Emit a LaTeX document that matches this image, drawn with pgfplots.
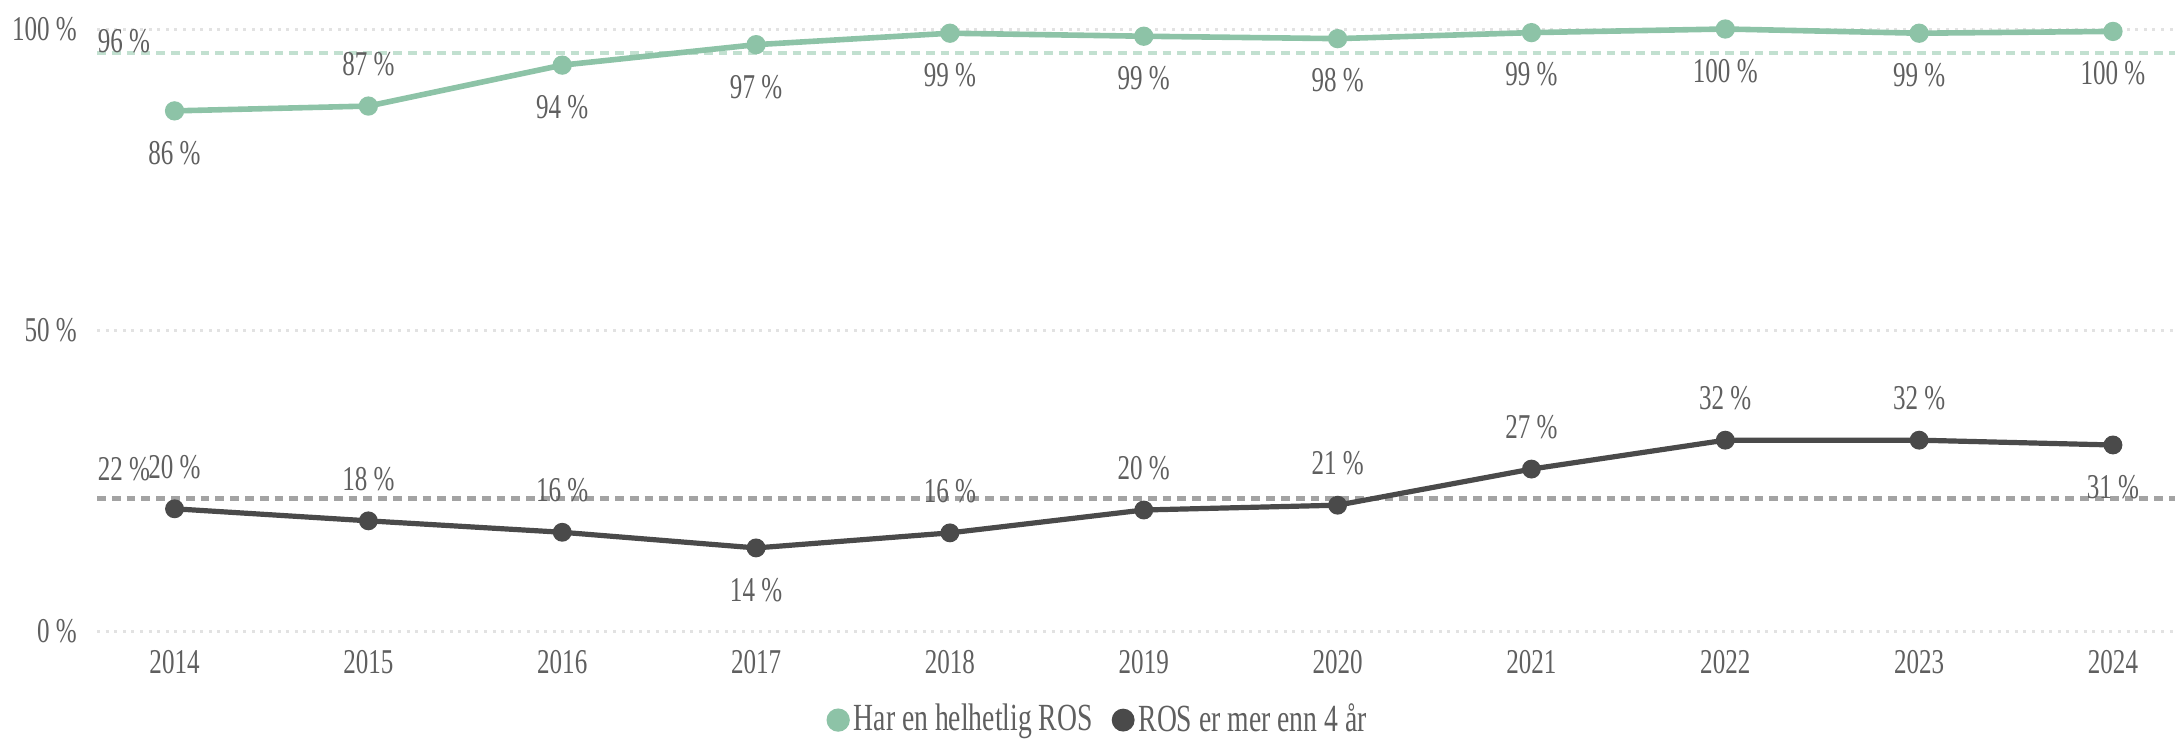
\documentclass[border=0pt]{standalone}
\usepackage{fontspec}
\setmainfont{Liberation Serif}[FakeStretch=0.72]
\usepackage{pgfplots}
\pgfplotsset{compat=1.18}
\usepackage{pgfplotstable}
\definecolor{ros}{HTML}{8DC3A7}
\definecolor{dark}{HTML}{4A4A4A}
\definecolor{avgG}{HTML}{C2E0D0}
\definecolor{avgD}{HTML}{A3A3A3}
\definecolor{txt}{HTML}{5F5F5F}
\definecolor{gridc}{HTML}{E2E2E2}

% Har en helhetlig ROS
\pgfplotstableread{
x y lab
2014 86.4 86
2015 87.2 87
2016 94.0 94
2017 97.4 97
2018 99.3 99
2019 98.8 99
2020 98.4 98
2021 99.4 99
2022 100 100
2023 99.3 99
2024 99.6 100
}\tblA

% ROS er mer enn 4 aar
\pgfplotstableread{
x y lab
2014 20.3 20
2015 18.3 18
2016 16.4 16
2017 13.8 14
2018 16.3 16
2019 20.1 20
2020 20.9 21
2021 26.9 27
2022 31.7 32
2023 31.7 32
2024 30.9 31
}\tblB

\pgfplotsset{
 lblabove/.style={forget plot, draw=none, mark=none, point meta=explicit,
  nodes near coords={\pgfmathprintnumber[assume math mode=true]{\pgfplotspointmeta} \%},
  every node near coord/.append style={anchor=center, yshift=10.5pt, font=\fontsize{8.7}{10}\selectfont, text=txt}},
 lblbelow/.style={forget plot, draw=none, mark=none, point meta=explicit,
  nodes near coords={\pgfmathprintnumber[assume math mode=true]{\pgfplotspointmeta} \%},
  every node near coord/.append style={anchor=center, yshift=-10.5pt, font=\fontsize{8.7}{10}\selectfont, text=txt}},
}

\begin{document}
\begin{tikzpicture}[font=\fontsize{8.7}{10}\selectfont]
\path[use as bounding box] (-24.25pt,-27.5pt) rectangle (519.5pt,157.75pt);
\begin{axis}[
  scale only axis, width=519.5pt, height=150.5pt,
  xmin=2013.6, xmax=2024.32, ymin=0, ymax=100,
  clip=false,
  axis line style={draw=none},
  major tick length=0pt,
  /pgf/number format/assume math mode=true,
  ytick={0,50,100}, yticklabels={0 \%,50 \%,100 \%},
  xtick={2014,2015,2016,2017,2018,2019,2020,2021,2022,2023,2024},
  xticklabels={2014,2015,2016,2017,2018,2019,2020,2021,2022,2023,2024},
  ymajorgrids,
  grid style={gridc, line width=0.75pt, dash pattern=on 0.75pt off 1.4pt},
  tick label style={font=\fontsize{8.7}{10}\selectfont, text=txt},
  xticklabel style={yshift=-1.2pt},
  yticklabel style={xshift=-1.5pt},
  legend style={at={(0.482,-0.148)}, anchor=center, draw=none, fill=none,
    font=\fontsize{9.6}{11}\selectfont, text=txt, inner sep=1pt,
    nodes={inner xsep=1pt},
    /tikz/every even column/.append style={column sep=3.8pt}},
  legend columns=2,
  legend image code/.code={\fill (0.08cm,0cm) circle (2.2pt);},
]
\addplot[forget plot, avgG, line width=1.15pt, dash pattern=on 2.2pt off 1.5pt] coordinates {(2013.6,96) (2024.32,96)};
\addplot[forget plot, avgD, line width=1.15pt, dash pattern=on 2.2pt off 1.5pt] coordinates {(2013.6,22) (2024.32,22)};
\addplot[color=ros, line width=1.4pt, mark=*, mark size=1.7pt, mark options={solid}] table[x=x, y=y] {\tblA};
\addlegendentry{Har en helhetlig ROS}
\addplot[color=dark, line width=1.3pt, mark=*, mark size=1.7pt, mark options={solid}] table[x=x, y=y] {\tblB};
\addlegendentry{ROS er mer enn 4 år}
% data labels
\addplot[lblabove] coordinates {(2015,87.2) [87]};
\addplot[lblbelow] coordinates {(2014,86.4) [86] (2016,94.0) [94] (2017,97.4) [97] (2018,99.3) [99] (2019,98.8) [99] (2020,98.4) [98] (2021,99.4) [99] (2022,100) [100] (2023,99.3) [99] (2024,99.6) [100]};
\addplot[lblabove] coordinates {(2014,20.3) [20] (2015,18.3) [18] (2016,16.4) [16] (2018,16.3) [16] (2019,20.1) [20] (2020,20.9) [21] (2021,26.9) [27] (2022,31.7) [32] (2023,31.7) [32]};
\addplot[lblbelow] coordinates {(2017,13.8) [14] (2024,30.9) [31]};
\node[anchor=west, text=txt, inner sep=0pt] at (axis cs:2013.6,98) {96 \%};
\node[anchor=west, text=txt, inner sep=0pt] at (axis cs:2013.6,26.9) {22 \%};
\end{axis}
\end{tikzpicture}
\end{document}
